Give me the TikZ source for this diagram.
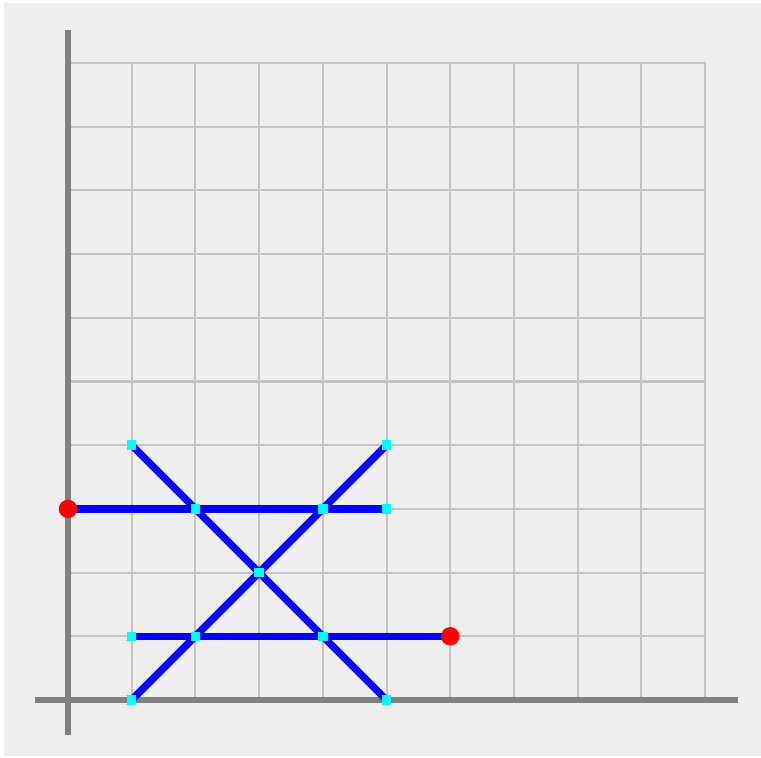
\documentclass[tikz,border=0pt]{standalone}
\usepackage{xcolor}
\usepackage{tikz}
\usetikzlibrary{calc}
\definecolor{panel}{HTML}{EEEEEE}
\definecolor{gridgray}{HTML}{C4C4C4}
\definecolor{axisgray}{HTML}{808080}
\definecolor{vertexcyan}{HTML}{00FFFF}
\definecolor{segblue}{HTML}{0000FF}
\definecolor{dotred}{HTML}{FF0000}
\tikzset{
  gridline/.style={draw=gridgray,line width=0.9pt},
  axisline/.style={draw=axisgray,line width=2.4pt},
  segment/.style={draw=segblue,line width=3.3pt},
  vertex/.style={rectangle,fill=vertexcyan,inner sep=0pt,minimum size=0.15cm},
  endpoint/.style={circle,fill=dotred,inner sep=0pt,minimum size=0.29cm}
}

\begin{document}
\begin{tikzpicture}
  \useasboundingbox (-1.0675,-0.895) rectangle (10.879,10.989);
  \fill[white] (-1.0675,-0.895) rectangle (10.879,10.989);
  \fill[panel] (-1.005,-0.88) rectangle (10.879,10.94);

  % grid
  \foreach \i in {1,...,10} {
    \draw[gridline] (\i,0) -- (\i,10);
    \draw[gridline] (0,\i) -- (10,\i);
  }

  % axes
  \coordinate (yb) at (0,-0.55);
  \coordinate (yt) at (0,10.52);
  \coordinate (xl) at (-0.52,0);
  \coordinate (xr) at (10.52,0);
  \draw[axisline] (yb) -- (yt);
  \draw[axisline] (xl) -- (xr);

  % points
  \coordinate (a) at (0,3);
  \coordinate (b) at (2,3);
  \coordinate (c) at (4,3);
  \coordinate (d) at (5,3);
  \coordinate (e) at (1,1);
  \coordinate (f) at (2,1);
  \coordinate (g) at (4,1);
  \coordinate (h) at (6,1);
  \coordinate (tl) at (1,4);
  \coordinate (tr) at (5,4);
  \coordinate (bl) at (1,0);
  \coordinate (br) at (5,0);
  \coordinate (m) at (3,2);

  \draw[segment] (a) -- (d);
  \draw[segment] (e) -- (h);
  \draw[segment] (tl) -- (m) -- (br);
  \draw[segment] (bl) -- (m) -- (tr);

  \foreach \p in {b,c,d,e,f,g,tl,tr,bl,br,m}
    \node[vertex] (v\p) at (\p) {};
  \node[endpoint] (ra) at (a) {};
  \node[endpoint] (rh) at (h) {};
\end{tikzpicture}
\end{document}
